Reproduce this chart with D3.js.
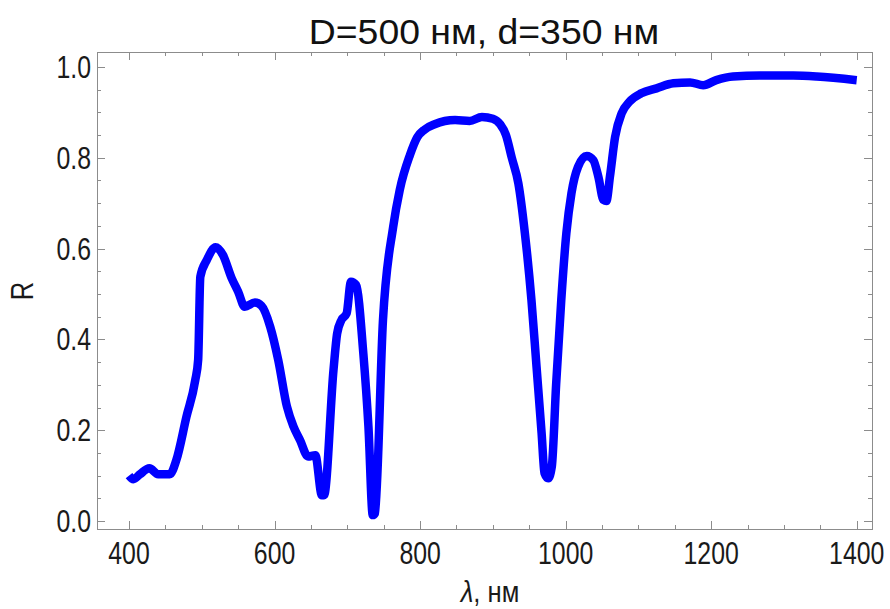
<!DOCTYPE html>
<html>
<head>
  <meta charset="utf-8">
  <style>
    body { margin: 0; background: #fff; }
    text { font-family: "Liberation Sans", Arial, sans-serif; }
  </style>
</head>
<body>
<svg id="chart" width="890" height="609"></svg>
<script src="https://d3js.org/d3.v7.min.js"></script>
<script>
// wavelength, nm
var lambda = [400, 406, 415, 428, 440, 456, 465, 479, 491, 495, 498, 507, 519, 529, 541, 550, 559, 573, 582, 594,
  605, 617, 626, 635, 646, 656, 665, 668, 681, 686, 692, 699, 705, 712, 722, 729, 735, 738, 749, 763,
  772, 786, 796, 806, 820, 848, 868, 885, 900, 910, 918, 926, 935, 944, 953, 960, 967, 971, 976, 981, 987, 994,
  1001, 1008, 1017, 1029, 1038, 1045, 1052, 1056, 1061, 1068, 1077, 1088, 1104, 1125, 1148, 1171, 1189, 1207, 1230, 1267,
  1313, 1345, 1400];
// reflectance
var refl = [0.100, 0.092, 0.103, 0.116, 0.103, 0.103, 0.134, 0.230, 0.310, 0.355, 0.538, 0.575, 0.603, 0.586, 0.535, 0.505, 0.472, 0.481, 0.474, 0.428,
  0.355, 0.252, 0.208, 0.178, 0.142, 0.145, 0.057, 0.057, 0.333, 0.413, 0.443, 0.457, 0.527, 0.520, 0.369, 0.208, 0.013, 0.017, 0.443, 0.648,
  0.729, 0.806, 0.845, 0.862, 0.874, 0.883, 0.881, 0.890, 0.886, 0.874, 0.850, 0.800, 0.744, 0.634, 0.487, 0.340, 0.193, 0.105, 0.094, 0.120, 0.303, 0.487,
  0.634, 0.722, 0.780, 0.804, 0.795, 0.758, 0.707, 0.705, 0.760, 0.846, 0.898, 0.924, 0.942, 0.953, 0.964, 0.966, 0.960, 0.971, 0.979, 0.981,
  0.981, 0.979, 0.971];

var xTicks = [400, 600, 800, 1000, 1200, 1400];
var yTicks = [0.0, 0.2, 0.4, 0.6, 0.8, 1.0];

var box = {left: 97, right: 872, top: 52, bottom: 529};

var svg = d3.select("#chart");

var x = d3.scaleLinear().domain([356, 1421]).range([box.left, box.right]);
var y = d3.scaleLinear().domain([-0.0176, 1.033]).range([box.bottom, box.top]);

var data = lambda.map(function(d, i) { return {x: d, y: refl[i]}; });

var frameColor = "#8c8c8c";

// minor ticks
var xMinor = d3.range(350, 1421, 50).filter(function(d) { return x(d) >= box.left && xTicks.indexOf(d) < 0; });
var yMinor = d3.range(0, 1.03, 0.05).map(function(d) { return +d.toFixed(2); })
  .filter(function(d) { return yTicks.indexOf(d) < 0; });

var ticks = svg.append("g").attr("stroke", frameColor).attr("stroke-width", 1);

function vTicks(vals, len) {
  vals.forEach(function(v) {
    var px = Math.round(x(v)) + 0.5;
    ticks.append("line").attr("x1", px).attr("x2", px).attr("y1", box.bottom).attr("y2", box.bottom - len);
    ticks.append("line").attr("x1", px).attr("x2", px).attr("y1", box.top).attr("y2", box.top + len);
  });
}
function hTicks(vals, len) {
  vals.forEach(function(v) {
    var py = Math.round(y(v)) + 0.5;
    ticks.append("line").attr("y1", py).attr("y2", py).attr("x1", box.left).attr("x2", box.left + len);
    ticks.append("line").attr("y1", py).attr("y2", py).attr("x1", box.right).attr("x2", box.right - len);
  });
}
vTicks(xTicks, 8);
vTicks(xMinor, 4);
hTicks(yTicks, 8);
hTicks(yMinor, 4);

// the line
var line = d3.line()
  .curve(d3.curveMonotoneX)
  .x(function(d) { return x(d.x); })
  .y(function(d) { return y(d.y); });

svg.append("path")
  .datum(data)
  .attr("fill", "none")
  .attr("stroke", "#0000ff")
  .attr("stroke-width", 8.5)
  .attr("stroke-linejoin", "round")
  .attr("d", line);

// frame
svg.append("rect")
  .attr("x", box.left + 0.5).attr("y", box.top + 0.5)
  .attr("width", box.right - box.left).attr("height", box.bottom - box.top)
  .attr("fill", "none")
  .attr("stroke", frameColor);

// tick labels (glyphs in the reference are a bit taller than wide)
svg.append("g").selectAll("text")
  .data(xTicks).enter().append("text")
  .attr("transform", function(d) { return "translate(" + x(d) + ",564) scale(0.92,1.15)"; })
  .attr("text-anchor", "middle")
  .attr("font-size", 27)
  .attr("fill", "#1a1a1a")
  .text(function(d) { return d; });

svg.append("g").selectAll("text")
  .data(yTicks).enter().append("text")
  .attr("transform", function(d) { return "translate(91," + (y(d) + 11) + ") scale(0.92,1.15)"; })
  .attr("text-anchor", "end")
  .attr("font-size", 27)
  .attr("fill", "#1a1a1a")
  .text(function(d) { return d.toFixed(1); });

// title
svg.append("text")
  .attr("transform", "translate(484,44) scale(1.1,1.02)")
  .attr("text-anchor", "middle")
  .attr("font-size", 34)
  .attr("fill", "#111")
  .text("D=500 нм, d=350 нм");

// axis labels
var xl = svg.append("text")
  .attr("transform", "translate(490,602) scale(0.95,1.12)")
  .attr("text-anchor", "middle")
  .attr("font-size", 27)
  .attr("fill", "#1a1a1a");
xl.append("tspan").attr("font-style", "italic").text("λ");
xl.append("tspan").text(", нм");

svg.append("text")
  .attr("transform", "translate(33,291) rotate(-90) scale(0.95,1.15)")
  .attr("text-anchor", "middle")
  .attr("font-size", 27)
  .attr("fill", "#1a1a1a")
  .text("R");
</script>
</body>
</html>
